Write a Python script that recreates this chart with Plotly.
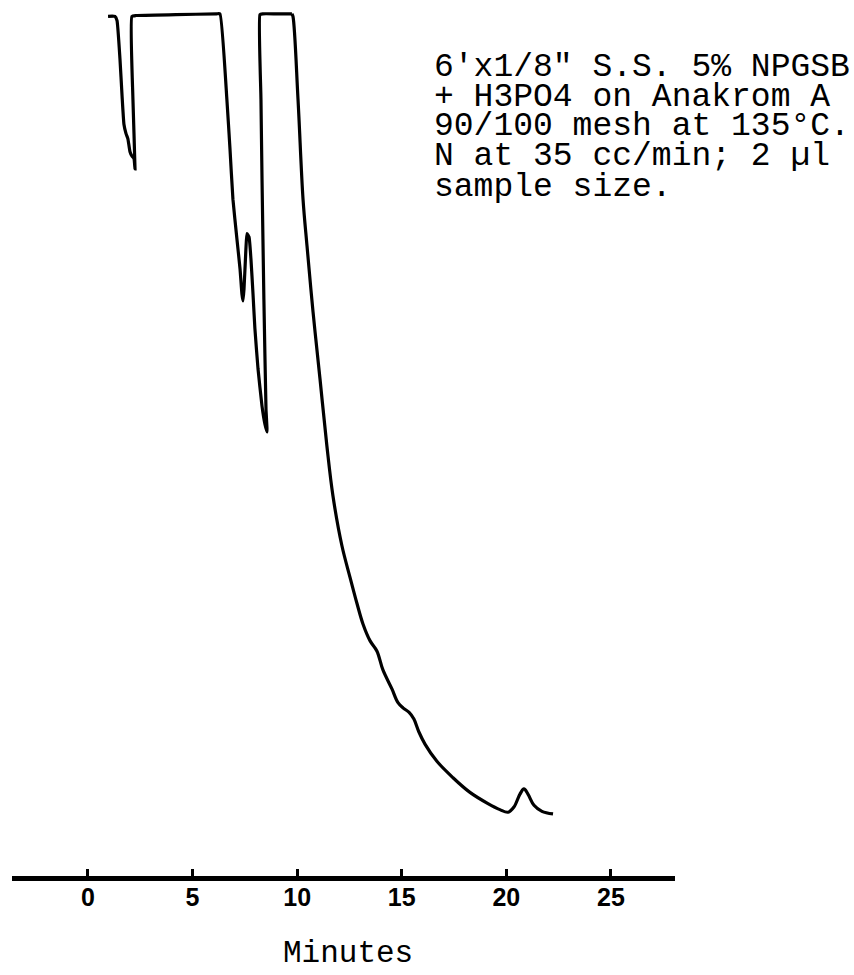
import plotly.graph_objects as go

# Retention time (minutes) and detector response (% of full scale, pen limit = 100)
time_min = [0.96, 1.29, 1.39, 1.53, 1.63, 1.72, 1.82, 1.91, 2.01, 2.10, 2.20, 2.25,
            2.15, 2.10, 2.30, 4.20, 6.15, 6.31,
            6.64, 6.79, 6.93, 7.12, 7.27, 7.36, 7.41,
            7.46, 7.55, 7.60, 7.70, 7.79, 7.89, 7.98, 8.13, 8.32, 8.46, 8.56,
            8.51, 8.41, 8.32, 8.27, 8.22, 8.35, 9.00, 9.62, 9.75,
            9.80, 10.04, 10.28, 10.47, 10.76, 11.09, 11.42, 11.71, 12.14, 12.52, 12.86,
            13.15, 13.48, 13.81, 14.10, 14.53, 14.82, 15.06, 15.34, 15.58, 15.82, 16.11,
            16.68, 17.45, 18.26, 19.12, 19.69, 20.08, 20.36, 20.65, 20.84, 21.03, 21.32,
            21.70, 22.23]
response = [99.7, 99.7, 99.2, 94.8, 90.5, 87.2, 86.1, 85.5, 84.0, 83.5, 83.2, 82.0,
            90.1, 99.7, 99.8, 99.9, 100.0, 100.0,
            90.1, 84.3, 78.5, 73.9, 70.4, 67.5, 66.7,
            68.1, 72.7, 74.5, 74.1, 71.6, 67.5, 63.5, 58.8, 54.5, 52.4, 51.5,
            54.2, 66.9, 80.9, 90.1, 99.9, 100.0, 100.0, 100.0, 100.0,
            99.7, 90.1, 78.5, 73.1, 65.4, 57.7, 49.9, 44.1, 38.3, 34.7, 31.6,
            29.2, 27.3, 26.1, 23.9, 21.7, 20.1, 19.5, 19.0, 18.2, 16.7, 15.3,
            13.3, 11.4, 9.7, 8.4, 7.7, 7.4, 8.0, 9.5, 10.1, 9.5, 8.2,
            7.5, 7.2]

tick_vals = [0, 5, 10, 15, 20, 25]
tick_text = ["0", "5", "10", "15", "20", "25"]

note_lines = ["6'x1/8\" S.S. 5% NPGSB",
              "+ H3PO4 on Anakrom A",
              "90/100 mesh at 135°C.",
              "N at 35 cc/min; 2 µl",
              "sample size."]
x_title = "Minutes"

# split: off-scale peaks (sharp pen strokes) and the smooth solvent tail
split = time_min.index(9.75) + 1

fig = go.Figure()
fig.add_trace(go.Scatter(x=time_min[:split], y=response[:split], mode="lines",
                         line=dict(color="black", width=3.2, shape="spline", smoothing=0.4),
                         hoverinfo="skip", showlegend=False))
fig.add_trace(go.Scatter(x=time_min[split - 1:], y=response[split - 1:], mode="lines",
                         line=dict(color="black", width=3.2, shape="spline", smoothing=1.0),
                         hoverinfo="skip", showlegend=False))

W, H = 854, 975
ml, mr, mt, mb = 12, 179, 0, 99
plot_h = H - mt - mb
plot_w = W - ml - mr

mono = "Liberation Mono, Courier New, monospace"
annotations = []
note_centers_px = [68, 98, 127, 157, 187]
for line, cy in zip(note_lines, note_centers_px):
    annotations.append(dict(
        text=line, xref="paper", yref="paper",
        x=(432 - ml) / plot_w, y=1 - (cy - mt) / plot_h,
        xanchor="left", yanchor="middle", showarrow=False,
        font=dict(family=mono, size=33, color="black")))
annotations.append(dict(
    text=x_title, xref="paper", yref="paper",
    x=(348 - ml) / plot_w, y=1 - (973 - mt) / plot_h,
    xanchor="center", yanchor="bottom", showarrow=False,
    font=dict(family=mono, size=31, color="black")))

fig.update_layout(
    width=W, height=H,
    margin=dict(l=ml, r=mr, t=mt, b=mb, pad=0),
    paper_bgcolor="white", plot_bgcolor="white",
    annotations=annotations,
    xaxis=dict(range=[-3.63, 28.06], tickvals=tick_vals, ticktext=tick_text,
               showgrid=False, zeroline=False, showline=True, linecolor="black",
               linewidth=4.5, ticks="inside", ticklen=7, tickwidth=2.5, tickcolor="black",
               ticklabelstandoff=-5,
               tickfont=dict(family="Liberation Sans, Arial, sans-serif", size=25,
                             color="black", weight="bold"),
               fixedrange=True),
    yaxis=dict(range=[0, 101.6], visible=False, showgrid=False, zeroline=False,
               fixedrange=True),
)

fig.write_html("out.html")
